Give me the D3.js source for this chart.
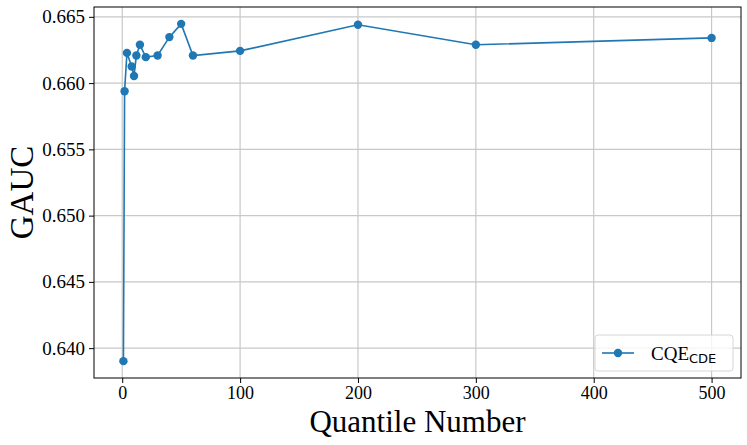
<!DOCTYPE html>
<html>
<head>
<meta charset="utf-8">
<script src="https://cdn.jsdelivr.net/npm/d3@7"></script>
<style>
  body { margin: 0; background: #fff; }
  svg { display: block; }
  .tick text { font-family: "Liberation Serif", "Times New Roman", serif !important; }
</style>
</head>
<body>
<svg id="chart" width="747" height="445"></svg>
<script>
// Data
const quantiles = [1, 2, 4, 8, 10, 12, 15, 20, 30, 40, 50, 60, 100, 200, 300, 500];
const gauc = [0.63902, 0.65939, 0.66228, 0.66125, 0.66054, 0.66208, 0.66289, 0.66196,
              0.66208, 0.66347, 0.66447, 0.66208, 0.66243, 0.66440, 0.66289, 0.66341];
const xTicks = [0, 100, 200, 300, 400, 500];
const yTicks = [0.640, 0.645, 0.650, 0.655, 0.660, 0.665];

const svg = d3.select('#chart');
const margin = { left: 94, right: 6, top: 7, bottom: 67 };
const width = 747, height = 445;
const color = '#1f77b4';
const serif = '"Liberation Serif", "Times New Roman", serif';

const points = quantiles.map((q, i) => ({ q, v: gauc[i] }));

// matplotlib style 5% margins
const xPad = (d3.max(quantiles) - d3.min(quantiles)) * 0.05;
const yPad = (d3.max(gauc) - d3.min(gauc)) * 0.05;

const x = d3.scaleLinear()
  .domain([d3.min(quantiles) - xPad, d3.max(quantiles) + xPad])
  .range([margin.left, width - margin.right]);

const y = d3.scaleLinear()
  .domain([d3.min(gauc) - yPad, d3.max(gauc) + yPad])
  .range([height - margin.bottom, margin.top]);

// Grid lines
const grid = svg.append('g').attr('class', 'grid');
grid.selectAll('line.gx')
  .data(xTicks)
  .join('line')
  .attr('class', 'gx')
  .attr('x1', d => x(d)).attr('x2', d => x(d))
  .attr('y1', margin.top).attr('y2', height - margin.bottom)
  .attr('stroke', '#c8c8c8').attr('stroke-width', 1.2);
grid.selectAll('line.gy')
  .data(yTicks)
  .join('line')
  .attr('class', 'gy')
  .attr('y1', d => y(d)).attr('y2', d => y(d))
  .attr('x1', margin.left).attr('x2', width - margin.right)
  .attr('stroke', '#c8c8c8').attr('stroke-width', 1.2);

// Axes
const xAxis = svg.append('g')
  .attr('transform', `translate(0,${height - margin.bottom})`)
  .call(d3.axisBottom(x).tickValues(xTicks).tickFormat(d3.format('d')).tickSizeOuter(0).tickSize(5).tickPadding(3));

const yAxis = svg.append('g')
  .attr('transform', `translate(${margin.left},0)`)
  .call(d3.axisLeft(y).tickValues(yTicks).tickFormat(d3.format('.3f')).tickSizeOuter(0).tickSize(5).tickPadding(4));

[xAxis, yAxis].forEach(a => {
  a.attr('font-family', serif).attr('font-size', 19);
  a.select('.domain').remove();
  a.selectAll('.tick line').attr('stroke', '#000').attr('stroke-width', 1);
  a.selectAll('.tick text')
    .attr('fill', '#000')
    .attr('font-family', serif)
    .attr('font-size', 19);
});
xAxis.selectAll('.tick text').attr('font-size', 18);

// Frame
svg.append('rect')
  .attr('x', margin.left).attr('y', margin.top)
  .attr('width', width - margin.left - margin.right)
  .attr('height', height - margin.top - margin.bottom)
  .attr('fill', 'none')
  .attr('stroke', '#000')
  .attr('stroke-width', 1);

// Axis labels
svg.append('text')
  .attr('x', (margin.left + width - margin.right) / 2)
  .attr('y', 432)
  .attr('text-anchor', 'middle')
  .style('font-family', serif)
  .style('font-size', '31px')
  .text('Quantile Number');

svg.append('text')
  .attr('transform', `translate(33,${(margin.top + height - margin.bottom) / 2}) rotate(-90)`)
  .attr('text-anchor', 'middle')
  .style('font-family', serif)
  .style('font-size', '33px')
  .text('GAUC');

// Line and markers
const line = d3.line().x(d => x(d.q)).y(d => y(d.v));
svg.append('path')
  .datum(points)
  .attr('d', line)
  .attr('fill', 'none')
  .attr('stroke', color)
  .attr('stroke-width', 1.6);

svg.append('g')
  .selectAll('circle')
  .data(points)
  .join('circle')
  .attr('cx', d => x(d.q))
  .attr('cy', d => y(d.v))
  .attr('r', 4.2)
  .attr('fill', color);

// Legend
const legend = svg.append('g').attr('transform', 'translate(595,335)');
legend.append('rect')
  .attr('width', 138).attr('height', 36)
  .attr('rx', 3)
  .attr('fill', '#fff')
  .attr('fill-opacity', 0.8)
  .attr('stroke', '#d6d6d6')
  .attr('stroke-width', 1);
legend.append('line')
  .attr('x1', 7).attr('x2', 39)
  .attr('y1', 18).attr('y2', 18)
  .attr('stroke', color).attr('stroke-width', 1.6);
legend.append('circle')
  .attr('cx', 23).attr('cy', 18).attr('r', 4.2).attr('fill', color);
const lt = legend.append('text')
  .attr('x', 56).attr('y', 25)
  .style('font-family', serif)
  .style('font-size', '19px');
lt.append('tspan').text('CQE');
lt.append('tspan')
  .attr('dy', 3)
  .style('font-family', '"DejaVu Sans", sans-serif')
  .style('font-size', '13px')
  .text('CDE');
</script>
</body>
</html>
